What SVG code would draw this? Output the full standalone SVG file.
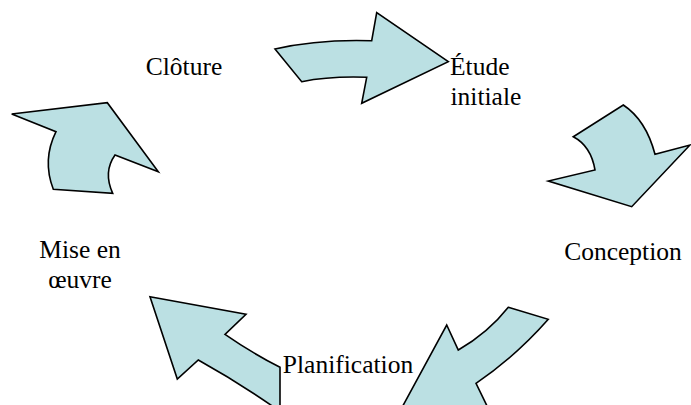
<svg xmlns="http://www.w3.org/2000/svg" width="691" height="405" viewBox="0 0 691 405">
<style>
.arr{fill:#bbe0e3;stroke:#000;stroke-width:1.6;stroke-linejoin:miter}
.lbl{font-family:"Liberation Serif","Times New Roman",serif;font-size:25.5px;fill:#000}
</style>
<rect width="691" height="405" fill="#fff"/>
<g id="connectors">
<path id="arrow-top" class="arr" d="M275,49 Q318,39 371.7,40.7 L376.7,12.7 L448.3,61.7 L361.7,103.3 L366.7,77.3 Q330,76 301.7,81.7 Z"/>
<path id="arrow-right" class="arr" d="M623.3,105 Q646,120 655,154.3 L690,145 L631.7,206.7 L548.3,181 L595,170 Q591,146 573.3,136.7 Z"/>
<path id="arrow-bottom-right" class="arr" d="M508.3,307.3 L548.3,319.3 Q515,357 476,383.3 L489,410 L400.6,410 L446.7,325 L458.3,350 Q488,333 508.3,307.3 Z"/>
<path id="arrow-bottom-left" class="arr" d="M150,296.7 L246,314.3 L225,334.3 Q252,353 280,367.3 L280,410 L278,410 Q238,382 198.3,360 L177.3,379 Z"/>
<path id="arrow-left" class="arr" d="M11.7,114 L107.3,102.7 L158.3,171.7 L115,155 Q103,172 112.7,193.3 L53.3,189.3 Q42,160 56,131.7 Z"/>
</g>
<g id="node-cloture"><text class="lbl" x="184" y="75" text-anchor="middle">Clôture</text></g>
<g id="node-etude"><text class="lbl" x="450" y="75">Étude</text><text class="lbl" x="450.5" y="105">initiale</text></g>
<g id="node-conception"><text class="lbl" x="623" y="260" text-anchor="middle">Conception</text></g>
<g id="node-planification"><text class="lbl" x="348" y="373" text-anchor="middle">Planification</text></g>
<g id="node-mise"><text class="lbl" x="80" y="258" text-anchor="middle">Mise en</text><text class="lbl" x="80" y="288" text-anchor="middle">œuvre</text></g>
</svg>
